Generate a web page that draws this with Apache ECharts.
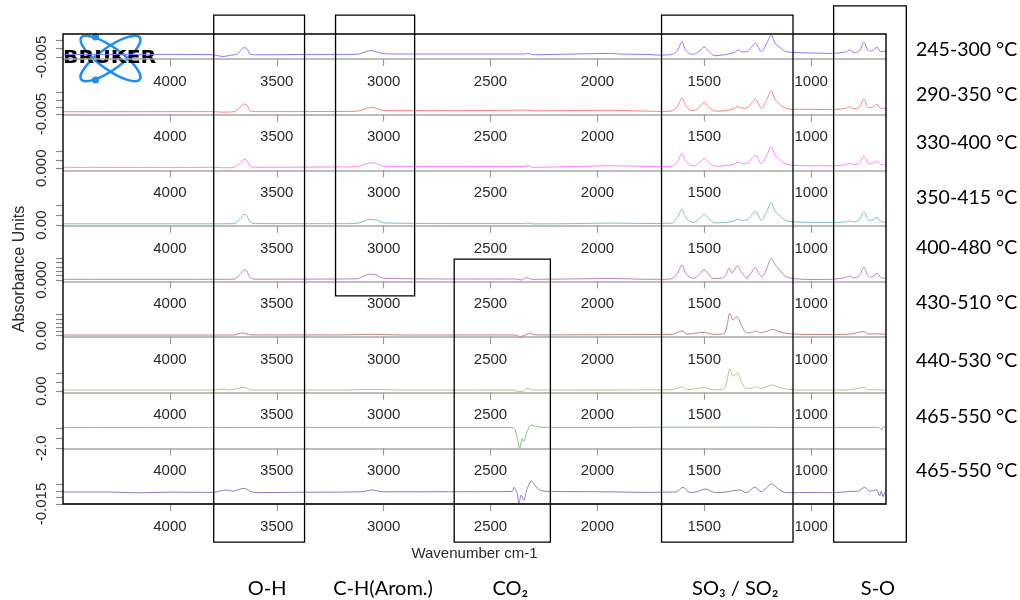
<!DOCTYPE html>
<html>
<head>
<meta charset="utf-8">
<title>TGA-FTIR spectra</title>
<script src="https://cdn.jsdelivr.net/npm/echarts@6/dist/echarts.min.js"></script>
<style>
  html, body { margin: 0; padding: 0; background: #fff; }
  #chart { width: 1020px; height: 600px; }
</style>
</head>
<body>
<div id="chart"></div>
<script>
// ---- data -------------------------------------------------------------
const wavenumberTicks = [4000, 3500, 3000, 2500, 2000, 1500, 1000];

const temperatureRanges = [
  '245-300 °C', '290-350 °C', '330-400 °C', '350-415 °C', '400-480 °C',
  '430-510 °C', '440-530 °C', '465-550 °C', '465-550 °C'
];

// absorbance axis ticks of each strip and the one value that is labelled
const yTickValues = [
  [-0.005, 0, 0.005],
  [-0.005, 0, 0.005, 0.010],
  [0, 0.005, 0.010],
  [0, 0.01, 0.02],
  [0, 0.002, 0.004, 0.006, 0.008, 0.010],
  [0, 0.01, 0.02, 0.03, 0.04, 0.05],
  [0, 0.01, 0.02],
  [-2, -1, 0],
  [-0.015, -0.010, -0.005, 0]
];
const yLabelValues = [-0.005, -0.005, 0, 0, 0, 0, 0, -2, -0.015];
const yLabelDecimals = [3, 3, 3, 2, 3, 2, 2, 1, 3];
const yRangeMin = [-0.0062, -0.0054, -0.0012, -0.0008, -0.0007, -0.0033, -0.0019, -2.0, -0.015];
const yRangeMax = [0.0088, 0.0121, 0.0138, 0.02495, 0.0108, 0.0562, 0.0266, 0.425, 0.004];

// absorption bands: [from, to] in cm-1
const bandNames = ['O-H', 'C-H(Arom.)', 'CO₂', 'SO₃ / SO₂', 'S-O'];
const bandRanges = [[3795, 3370], [3225, 2855], [2670, 2220], [1700, 1085], [895, 555]];

// spectra: [wavenumber cm-1, absorbance]
const spec245 = [
  [4500,-0.0035],[4100,-0.00344],[3800,-0.00362],[3752,-0.0047],[3710,-0.0038],[3687,-0.0035],
  [3668,-0.0008],[3654,0.00058],[3640,0.0001],[3625,-0.0032],[3600,-0.00368],[3400,-0.0035],
  [3200,-0.00344],[3125,-0.00332],[3080,-0.0017],[3057,-0.00122],[3030,-0.002],[3004,-0.0029],
  [2950,-0.0032],[2600,-0.0032],[2340,-0.0032],[2325,-0.00272],[2300,-0.00362],[2100,-0.0032],
  [1940,-0.00284],[1900,-0.0032],[1750,-0.00356],[1708,-0.00392],[1690,-0.0038],[1650,-0.00344],
  [1625,-0.0008],[1604,0.00418],[1590,-0.0002],[1570,-0.0029],[1550,-0.00338],[1520,-0.0011],
  [1501,0.00118],[1480,-0.0014],[1451,-0.00422],[1400,-0.0035],[1360,-0.0023],[1342,-0.0008],
  [1320,-0.002],[1295,-0.0014],[1275,0.0016],[1261,0.00322],[1233,-0.00182],[1210,0.0028],
  [1186,0.0082],[1170,0.0034],[1150,0.001],[1120,-0.0017],[1087,-0.00218],[1000,-0.0026],
  [900,-0.00284],[840,-0.002],[820,-0.0008],[800,-0.0023],[775,-0.0014],[753,0.00382],
  [735,-0.0008],[718,-0.0014],[692,0.00082],[675,-0.00182],[652,-0.0014]
];
const spec290 = [
  [4500,-0.00337],[3800,-0.0033],[3752,-0.00365],[3700,-0.0033],[3668,0.0002],[3654,0.00202],
  [3640,0.00146],[3625,-0.0026],[3600,-0.0033],[3200,-0.00319],[3125,-0.00298],[3080,-0.00095],
  [3057,-0.00039],[3030,-0.00116],[3000,-0.0026],[2600,-0.0026],[2330,-0.00225],[2300,-0.00274],
  [1940,-0.00239],[1750,-0.00302],[1700,-0.00316],[1650,-0.00274],[1625,0.00055],[1604,0.00643],
  [1590,0.0016],[1570,-0.0019],[1550,-0.0026],[1520,0.0002],[1501,0.00321],[1480,0.0002],
  [1451,-0.00295],[1400,-0.0026],[1360,-0.0012],[1342,0.00013],[1320,-0.00095],[1295,-0.00025],
  [1275,0.00335],[1261,0.00552],[1233,-0.00099],[1210,0.0044],[1186,0.01112],[1170,0.00552],
  [1150,0.0023],[1120,-0.00095],[1087,-0.00165],[1000,-0.00169],[900,-0.0019],[840,-0.00095],
  [820,0.00013],[800,-0.0012],[775,-0.00025],[753,0.00552],[735,-0.00025],[718,-0.0005],
  [692,0.00181],[675,-0.00095],[652,-0.00099]
];
const spec330 = [
  [4500,0.00054],[3800,0.00054],[3752,0.0003],[3700,0.0006],[3668,0.0036],[3654,0.00534],
  [3640,0.0048],[3625,0.0012],[3600,0.0006],[3200,0.00078],[3125,0.0009],[3080,0.00282],
  [3057,0.0033],[3030,0.00258],[3000,0.0012],[2600,0.00108],[2340,0.00108],[2325,0.00168],
  [2305,0.0006],[2100,0.00108],[1940,0.00144],[1750,0.00108],[1700,0.00096],[1650,0.00132],
  [1625,0.0039],[1604,0.00894],[1590,0.0048],[1570,0.0021],[1550,0.0015],[1520,0.0036],
  [1501,0.00594],[1480,0.0036],[1451,0.0012],[1400,0.0015],[1360,0.0024],[1342,0.00354],
  [1320,0.0027],[1295,0.0033],[1275,0.0063],[1261,0.00792],[1233,0.0027],[1210,0.0072],
  [1186,0.0129],[1170,0.0081],[1150,0.0054],[1120,0.0027],[1087,0.0018],[1000,0.0015],
  [900,0.0015],[840,0.0021],[820,0.00294],[800,0.0021],[775,0.003],[753,0.0075],
  [735,0.0033],[718,0.0027],[692,0.00432],[675,0.0024],[652,0.00192]
];
const spec350 = [
  [4500,0.00136],[3800,0.00136],[3700,0.00147],[3668,0.00744],[3654,0.01105],[3640,0.01002],
  [3625,0.00332],[3600,0.00157],[3200,0.00147],[3125,0.00178],[3080,0.00517],[3057,0.0059],
  [3030,0.00487],[3000,0.00229],[2600,0.00157],[2340,0.00157],[2325,0.00229],[2305,0.00126],
  [2100,0.00157],[1940,0.00208],[1750,0.00167],[1700,0.00167],[1650,0.00229],[1625,0.00796],
  [1604,0.0162],[1590,0.00899],[1570,0.00384],[1550,0.00281],[1520,0.00744],[1501,0.01135],
  [1480,0.00693],[1451,0.00229],[1400,0.00281],[1360,0.00435],[1342,0.0062],[1320,0.00487],
  [1295,0.0059],[1275,0.01156],[1261,0.01444],[1233,0.00487],[1210,0.01311],[1186,0.02299],
  [1170,0.01465],[1150,0.01002],[1120,0.00487],[1087,0.00332],[1000,0.00281],[900,0.0026],
  [840,0.00332],[820,0.00445],[800,0.00332],[775,0.00538],[753,0.01372],[735,0.0059],
  [718,0.00487],[692,0.00796],[675,0.00384],[652,0.00281]
];
const spec400 = [
  [4500,0.00031],[3800,0.00031],[3700,0.00036],[3668,0.00298],[3654,0.00459],[3640,0.00413],
  [3625,0.00114],[3600,0.00036],[3200,0.00045],[3125,0.00059],[3080,0.00229],[3057,0.00261],
  [3030,0.00206],[3000,0.00077],[2600,0.00045],[2380,0.00045],[2356,-0.00001],[2330,0.00105],
  [2305,0.00031],[2100,0.0005],[1940,0.00068],[1750,0.00031],[1700,0.00031],[1650,0.00068],
  [1625,0.00321],[1604,0.00689],[1590,0.00367],[1570,0.00137],[1550,0.00068],[1520,0.00298],
  [1501,0.00482],[1480,0.00275],[1460,0.00068],[1420,0.00077],[1400,0.00206],[1384,0.00537],
  [1370,0.00321],[1345,0.00643],[1325,0.00344],[1300,0.00091],[1280,0.00344],[1261,0.00574],
  [1245,0.00298],[1230,0.00151],[1210,0.00482],[1186,0.00997],[1170,0.00712],[1155,0.00551],
  [1135,0.00298],[1116,0.00137],[1087,0.00068],[1000,0.00022],[900,0.00031],[840,0.00114],
  [820,0.00183],[800,0.00091],[775,0.00206],[753,0.00583],[735,0.00206],[718,0.00137],
  [692,0.00307],[675,0.00114],[652,0.00077]
];
const spec430 = [
  [4500,0.0017],[3800,0.0017],[3700,0.00194],[3660,0.0067],[3645,0.00503],[3620,0.00194],
  [3200,0.00194],[3057,0.00336],[2900,0.0017],[2400,0.00194],[2375,0.00098],[2363,-0.00235],
  [2345,0.00027],[2316,0.00574],[2290,0.00194],[2000,0.00241],[1750,0.00289],[1650,0.00336],
  [1604,0.01152],[1580,0.00384],[1501,0.00812],[1460,0.00336],[1420,0.00384],[1404,0.00622],
  [1393,0.02526],[1381,0.05334],[1365,0.0374],[1347,0.04525],[1326,0.02526],[1303,0.00717],
  [1280,0.00741],[1261,0.01152],[1240,0.00741],[1225,0.00812],[1200,0.01217],[1181,0.01526],
  [1150,0.00979],[1116,0.00574],[1050,0.00336],[900,0.00289],[820,0.00384],[753,0.00985],
  [735,0.00432],[700,0.00455],[652,0.00336]
];
const spec440 = [
  [4500,0.00118],[3800,0.00118],[3752,0.00232],[3720,0.00129],[3654,0.00426],[3620,0.00118],
  [3200,0.00118],[3057,0.00186],[2900,0.00118],[2400,0.00129],[2363,-0.00076],[2345,0.00038],
  [2330,0.00312],[2300,0.00118],[2000,0.00129],[1650,0.00152],[1604,0.00494],[1580,0.00152],
  [1501,0.0038],[1460,0.00152],[1420,0.00175],[1404,0.00323],[1393,0.01292],[1381,0.02512],
  [1365,0.01714],[1347,0.0209],[1326,0.01064],[1303,0.00312],[1280,0.00323],[1261,0.00494],
  [1240,0.00323],[1225,0.0038],[1200,0.00551],[1181,0.00688],[1150,0.00437],[1116,0.0022],
  [1050,0.00118],[900,0.00118],[820,0.00152],[753,0.00426],[735,0.00152],[700,0.00152],
  [652,0.00106]
];
const spec465a = [
  [4500,0.037],[3800,0.037],[3700,0.018],[3500,0.037],[2420,0.037],[2395,-0.002],
  [2385,-0.206],[2375,-1.03],[2363,-1.971],[2352,-1.03],[2344,-1.321],[2330,-0.448],
  [2310,0.28],[2290,0.124],[2250,0.037],[2000,0.037],[1500,0.056],[1000,0.037],
  [700,0.037],[680,-0.012],[670,-0.225],[665,0.086],[652,0.037]
];
const spec465b = [
  [4500,-0.00588],[4300,-0.00588],[4150,-0.00649],[4000,-0.00603],[3800,-0.00618],[3735,-0.00436],
  [3705,-0.00527],[3654,-0.00307],[3612,-0.00603],[3550,-0.00626],[3400,-0.00611],[3100,-0.00565],
  [3057,-0.00436],[3000,-0.0057],[2600,-0.00565],[2400,-0.0055],[2391,-0.00231],[2376,-0.00687],
  [2367,-0.01424],[2356,-0.00816],[2344,-0.01234],[2330,-0.00398],[2308,0.00248],[2287,-0.00208],
  [2262,-0.00489],[2200,-0.0055],[2000,-0.00565],[1750,-0.00618],[1650,-0.00588],[1630,-0.00573],
  [1599,-0.00231],[1575,-0.00565],[1552,-0.00626],[1495,-0.0036],[1460,-0.00588],[1443,-0.00641],
  [1400,-0.00588],[1334,-0.00436],[1303,-0.00641],[1264,-0.00231],[1233,-0.00565],[1186,0.0002],
  [1147,-0.00436],[1116,-0.00641],[1000,-0.00626],[900,-0.00641],[820,-0.0055],[780,-0.00527],
  [750,-0.00231],[726,-0.00527],[695,-0.00436],[680,-0.00892],[672,-0.00527],[664,-0.00945],
  [656,-0.00588]
];
const spectra = [spec245, spec290, spec330, spec350, spec400, spec430, spec440, spec465a, spec465b];

// ---- layout & style ---------------------------------------------------
const lineColors = ['#8080ff', '#ff8080', '#ff80ff', '#80c0c0', '#c080c0',
                    '#c08080', '#c0c080', '#80c080', '#8080c0'];
const FRAME_LEFT = 63, FRAME_RIGHT = 886, FRAME_TOP = 34, FRAME_BOTTOM = 504;
const FIRST_AXIS_Y = 59, ROW_PITCH = (FRAME_BOTTOM - FIRST_AXIS_Y) / 8, STRIP_H = 25;
const WN_MIN = 650, WN_MAX = 4500;
const rightLabelY = [52, 97, 145, 200, 250, 305, 363, 419, 473];
// vertical extent of each band box, in frame units (0 = bottom, 1 = top of frame)
const boxTop = [1.040, 1.040, 0.521, 1.040, 1.060];
const boxBottom = [-0.081, 0.443, -0.081, -0.081, -0.081];
const bandLabelLevel = -0.179;
const axisFont = 'Liberation Sans, Arial, sans-serif';
const annotFont = 'Lato, "Open Sans", sans-serif';

const grids = [], xAxes = [], yAxes = [], series = [];
for (let k = 0; k < 9; k++) {
  const axisY = FIRST_AXIS_Y + k * ROW_PITCH;
  grids.push({ left: FRAME_LEFT, width: FRAME_RIGHT - FRAME_LEFT, top: axisY - STRIP_H, height: STRIP_H });
  xAxes.push({
    gridIndex: k, type: 'value', min: WN_MIN, max: WN_MAX, inverse: true,
    axisLine: { onZero: false, lineStyle: { color: '#a8a8a8', width: 1.6 } },
    axisTick: { customValues: wavenumberTicks, length: 7, lineStyle: { color: '#9a9a9a', width: 1.2 } },
    axisLabel: { customValues: wavenumberTicks, fontSize: 15, color: '#2a2a2a', margin: 15,
                 fontFamily: axisFont, formatter: v => String(v) },
    splitLine: { show: false }
  });
  const dec = yLabelDecimals[k];
  yAxes.push({
    gridIndex: k, type: 'value', min: yRangeMin[k], max: yRangeMax[k],
    axisLine: { show: false, onZero: false },
    axisTick: { show: true, customValues: yTickValues[k], length: 7, lineStyle: { color: '#8a8a8a', width: 1.2 } },
    axisLabel: {
      customValues: [yLabelValues[k]], rotate: 90, fontSize: 15, color: '#2a2a2a', margin: 14,
      fontFamily: axisFont, formatter: v => v.toFixed(dec)
    },
    splitLine: { show: false }
  });
  series.push({
    type: 'line', xAxisIndex: k, yAxisIndex: k, data: spectra[k],
    showSymbol: false, smooth: 0.3, silent: true, z: 3,
    lineStyle: { color: lineColors[k], width: 1 }
  });
}

// frame, shared axis titles and band boxes
grids.push({
  left: FRAME_LEFT, width: FRAME_RIGHT - FRAME_LEFT, top: FRAME_TOP, height: FRAME_BOTTOM - FRAME_TOP,
  show: true, borderColor: '#000', borderWidth: 1.4, backgroundColor: 'transparent', z: 6
});
xAxes.push({
  gridIndex: 9, type: 'value', min: WN_MIN, max: WN_MAX, inverse: true,
  name: 'Wavenumber cm-1', nameLocation: 'middle', nameGap: 42,
  nameTextStyle: { fontSize: 15, color: '#2a2a2a', fontFamily: axisFont },
  axisLine: { show: false }, axisTick: { show: false }, axisLabel: { show: false }, splitLine: { show: false }
});
yAxes.push({
  gridIndex: 9, type: 'value', min: 0, max: 1,
  name: 'Absorbance Units', nameLocation: 'middle', nameGap: 35, nameRotate: 90,
  nameTextStyle: { fontSize: 16, color: '#2a2a2a', fontFamily: axisFont },
  axisLine: { show: false }, axisTick: { show: false }, axisLabel: { show: false }, splitLine: { show: false }
});
series.push({
  type: 'custom', xAxisIndex: 9, yAxisIndex: 9, clip: false, silent: true, z: 8,
  data: bandRanges,
  renderItem: function (params, api) {
    const i = params.dataIndex;
    const x1 = api.coord([api.value(0), 0])[0];
    const x2 = api.coord([api.value(1), 0])[0];
    const yT = api.coord([WN_MIN, boxTop[i]])[1];
    const yB = api.coord([WN_MIN, boxBottom[i]])[1];
    const yL = api.coord([WN_MIN, bandLabelLevel])[1];
    return {
      type: 'group',
      children: [
        { type: 'rect', shape: { x: x1, y: yT, width: x2 - x1, height: yB - yT },
          style: { fill: 'none', stroke: '#000', lineWidth: 1.3 } },
        { type: 'text', style: { text: bandNames[i], x: (x1 + x2) / 2 + 8, y: yL,
          align: 'center', verticalAlign: 'middle', fill: '#000', fontSize: 20, fontFamily: annotFont } }
      ]
    };
  }
});

// temperature range labels and Bruker logo
const graphics = temperatureRanges.map((t, k) => ({
  type: 'text', left: 916, top: rightLabelY[k] - 12, z: 10,
  style: { text: t, fill: '#000', fontSize: 19.5, fontFamily: annotFont }
}));
const logoBlue = '#1e8ff0';
graphics.push({
  type: 'group', x: 110.5, y: 58.5, z: 20,
  children: [
    { type: 'ellipse', shape: { cx: 0, cy: 0, rx: 36, ry: 11 }, rotation: -0.62,
      style: { fill: 'none', stroke: logoBlue, lineWidth: 2.6 } },
    { type: 'ellipse', shape: { cx: 0, cy: 0, rx: 36, ry: 11 }, rotation: 0.62,
      style: { fill: 'none', stroke: logoBlue, lineWidth: 2.6 } },
    { type: 'circle', shape: { cx: -15, cy: -21.5, r: 3.6 }, style: { fill: logoBlue } },
    { type: 'circle', shape: { cx: -15, cy: 21.5, r: 3.6 }, style: { fill: logoBlue } },
    { type: 'text', x: -47.5, y: 0, scaleX: 1.2,
      style: { text: 'BRUKER', fill: '#000', font: 'bold 17px "DejaVu Sans", sans-serif',
               verticalAlign: 'middle', align: 'left' } }
  ]
});

const chart = echarts.init(document.getElementById('chart'), null, { renderer: 'canvas' });
chart.setOption({
  animation: false,
  backgroundColor: '#fff',
  grid: grids,
  xAxis: xAxes,
  yAxis: yAxes,
  series: series,
  graphic: graphics
});
</script>
</body>
</html>
